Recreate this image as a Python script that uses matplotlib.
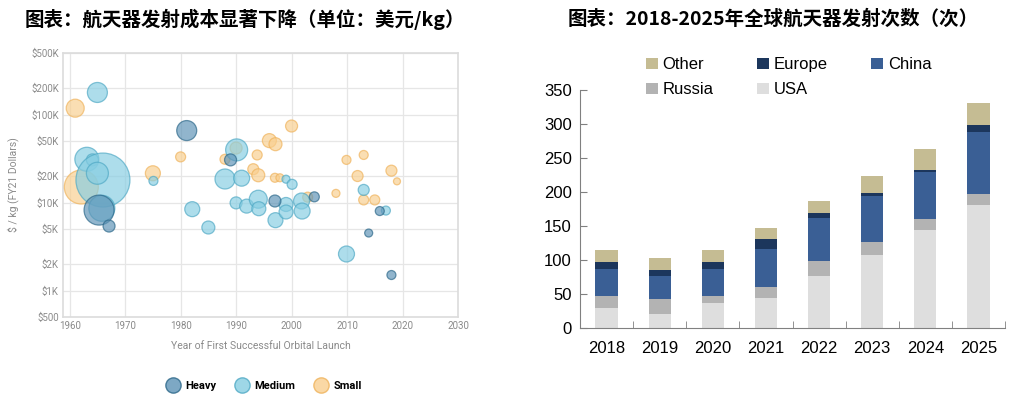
import numpy as np
import matplotlib
matplotlib.use("Agg")
import matplotlib.pyplot as plt
from matplotlib.lines import Line2D
from matplotlib.patches import Patch

plt.rcParams['font.family'] = ['Noto Sans CJK SC', 'DejaVu Sans']

# ---- left chart: launch cost bubbles (year, $/kg, bubble radius) ----
heavy_year = [1981.1, 1965.3, 1967.1, 1989.0, 1997.0, 2004.1, 2015.9, 2013.9, 2018.0]
heavy_cost = [65700, 8200, 5400, 30500, 10400, 11600, 8000, 4500, 1500]
heavy_size = [10, 15, 6, 6, 6, 5, 4.5, 4, 4.5]

medium_year = [1965.0, 1963.1, 1964.1, 1966.0, 1965.0, 1965.8, 1975.1, 1990.1, 1988.0,
               1991.0, 1999.0, 2000.1, 1982.1, 1985.0, 1990.0, 1991.9, 1994.0, 1994.1,
               1997.1, 1999.0, 1999.0, 2001.8, 2001.9, 2009.9, 2013.0, 2017.0]
medium_cost = [178000, 31000, 30500, 18000, 21500, 8600, 17600, 39600, 18500,
               18900, 18400, 16100, 8400, 5200, 9900, 9100, 10900, 8500,
               6300, 9500, 7800, 10400, 8000, 2600, 13900, 8100]
medium_size = [10, 12, 6, 27, 11, 13, 4.5, 11, 10,
               8, 4, 5, 7.5, 6.5, 6, 7, 9, 7,
               7.5, 7, 7, 8, 8, 8, 5.5, 4.5]

small_year = [1961.0, 1962.1, 1975.0, 1980.0, 1990.0, 1988.0, 1993.8, 1996.0, 1997.1,
              1993.1, 1994.0, 1997.0, 1997.9, 2000.0, 2002.9, 2008.0, 2009.9, 2013.0,
              2011.9, 2018.0, 2019.0, 2013.0, 2015.0]
small_cost = [118000, 15000, 21500, 33000, 41600, 31000, 34700, 50500, 46000,
              23900, 20400, 19100, 19100, 74000, 11500, 12700, 30500, 34700,
              20000, 23000, 17400, 10700, 10700]
small_size = [9, 17, 7.5, 5, 6, 5, 5, 7, 6.5,
              5.5, 6.5, 4.5, 4, 6, 5, 4, 4.5, 4.5,
              5.5, 5.5, 3.5, 5, 5]

cost_ticks = [500, 1000, 2000, 5000, 10000, 20000, 50000, 100000, 200000, 500000]
cost_labels = ['$500', '$1K', '$2K', '$5K', '$10K', '$20K', '$50K', '$100K', '$200K', '$500K']

# ---- right chart: launches per year ----
years = ['2018', '2019', '2020', '2021', '2022', '2023', '2024', '2025']
usa = [30, 21, 37, 45, 77, 108, 145, 181]
russia = [17, 22, 11, 16, 22, 19, 16, 16]
china = [40, 34, 39, 55, 63, 68, 68, 92]
europe = [10, 9, 10, 15, 7, 3, 3, 9]
other = [18, 17, 18, 16, 18, 26, 32, 33]

fig = plt.figure(figsize=(10.24, 3.96), dpi=100)

# titles
fig.text(25 / 1024, 1 - 19 / 396, '图表：航天器发射成本显著下降（单位：美元/kg）',
         fontsize=14, fontweight='bold', va='center', ha='left')
fig.text(773 / 1024, 1 - 19 / 396, '图表：2018-2025年全球航天器发射次数（次）',
         fontsize=14, fontweight='bold', va='center', ha='center')

# ---------- bubble chart ----------
ax1 = fig.add_axes([63 / 1024, 1 - 317 / 396, 395 / 1024, 264 / 396])
ax1.set_yscale('log')


def px_to_s(r):
    return (1.44 * np.asarray(r)) ** 2


groups = [
    (small_year, small_cost, small_size, '#f9cf8f', '#efb25a', 'Small'),
    (medium_year, medium_cost, medium_size, '#86cde2', '#4ea8c4', 'Medium'),
    (heavy_year, heavy_cost, heavy_size, '#5d93b6', '#2a6688', 'Heavy'),
]
for yr, cost, size, fc, ec, name in groups:
    ax1.scatter(yr, cost, s=px_to_s(size), facecolor=fc, edgecolor=ec,
                linewidth=0.9, alpha=0.68, zorder=3)

ax1.set_xlim(1958.8, 2030)
ax1.set_ylim(500, 500000)
ax1.set_xticks(range(1960, 2031, 10))
ax1.set_yticks(cost_ticks)
ax1.set_yticklabels(cost_labels)
ax1.minorticks_off()
ax1.tick_params(length=0, labelsize=7, colors='#8a8a8a', pad=3)
for lab in ax1.get_xticklabels() + ax1.get_yticklabels():
    lab.set_family(['Roboto', 'DejaVu Sans'])
ax1.grid(True, color='#e6e6e6', linewidth=0.9, zorder=0)
for sp in ax1.spines.values():
    sp.set_color('#dcdcdc')
    sp.set_linewidth(1.2)
ax1.set_xlabel('Year of First Successful Orbital Launch', fontsize=7.5, color='#8a8a8a',
               family=['Roboto', 'DejaVu Sans'], labelpad=7)
ax1.set_ylabel('$ / kg (FY21 Dollars)', fontsize=7.5, color='#8a8a8a',
               family=['Roboto', 'DejaVu Sans'], labelpad=9)

leg_handles = [Line2D([], [], marker='o', linestyle='', markersize=11,
                      markerfacecolor=fc, markeredgecolor=ec, alpha=0.8, label=name)
               for _, _, _, fc, ec, name in groups[::-1]]
fig.legend(handles=leg_handles, loc='center', bbox_to_anchor=(262 / 1024, 1 - 386 / 396),
           ncol=3, frameon=False, handletextpad=0.1, columnspacing=1.3,
           prop={'weight': 'bold', 'size': 8, 'family': ['Roboto', 'DejaVu Sans']})

# ---------- stacked bars ----------
ax2 = fig.add_axes([580 / 1024, 1 - 328.3 / 396, 425 / 1024, 238.3 / 396])
x = np.arange(len(years))
w = 0.42
bottom = np.zeros(len(years))
series = [
    (usa, '#dedede', 'USA'),
    (russia, '#b3b3b3', 'Russia'),
    (china, '#3a5f95', 'China'),
    (europe, '#1c365c', 'Europe'),
    (other, '#c5bc93', 'Other'),
]
bars = {}
for vals, col, name in series:
    bars[name] = ax2.bar(x, vals, w, bottom=bottom, color=col, label=name, zorder=2)
    bottom += np.array(vals)

ax2.set_xlim(-0.5, len(years) - 0.5)
ax2.set_ylim(0, 350)
ax2.set_yticks(range(0, 351, 50))
ax2.set_xticks(x)
ax2.set_xticklabels(years)
ax2.set_xticks(np.arange(-0.5, len(years), 1), minor=True)
ax2.tick_params(axis='x', which='major', length=0, pad=9)
ax2.tick_params(axis='x', which='minor', direction='in', length=5, color='#808080')
ax2.tick_params(axis='y', direction='in', length=5, color='#808080', pad=6)
ax2.tick_params(labelsize=12)
for lab in ax2.get_xticklabels() + ax2.get_yticklabels():
    lab.set_family(['Liberation Sans', 'DejaVu Sans'])
ax2.spines['top'].set_visible(False)
ax2.spines['right'].set_visible(False)
ax2.spines['left'].set_color('#808080')
ax2.spines['bottom'].set_color('#808080')

order = ['Other', 'Russia', 'Europe', 'USA', 'China']
handles = [Patch(facecolor=bars[n].patches[0].get_facecolor(), label=n) for n in order]
ax2.legend(handles=handles, ncol=3, loc='upper left', bbox_to_anchor=(0.12, 1.2),
           frameon=False, handlelength=0.7, handleheight=0.7, handletextpad=0.3,
           columnspacing=2.6, labelspacing=0.6,
           prop={'family': ['Liberation Sans', 'DejaVu Sans'], 'size': 12})

fig.savefig('out.png', dpi=100)
